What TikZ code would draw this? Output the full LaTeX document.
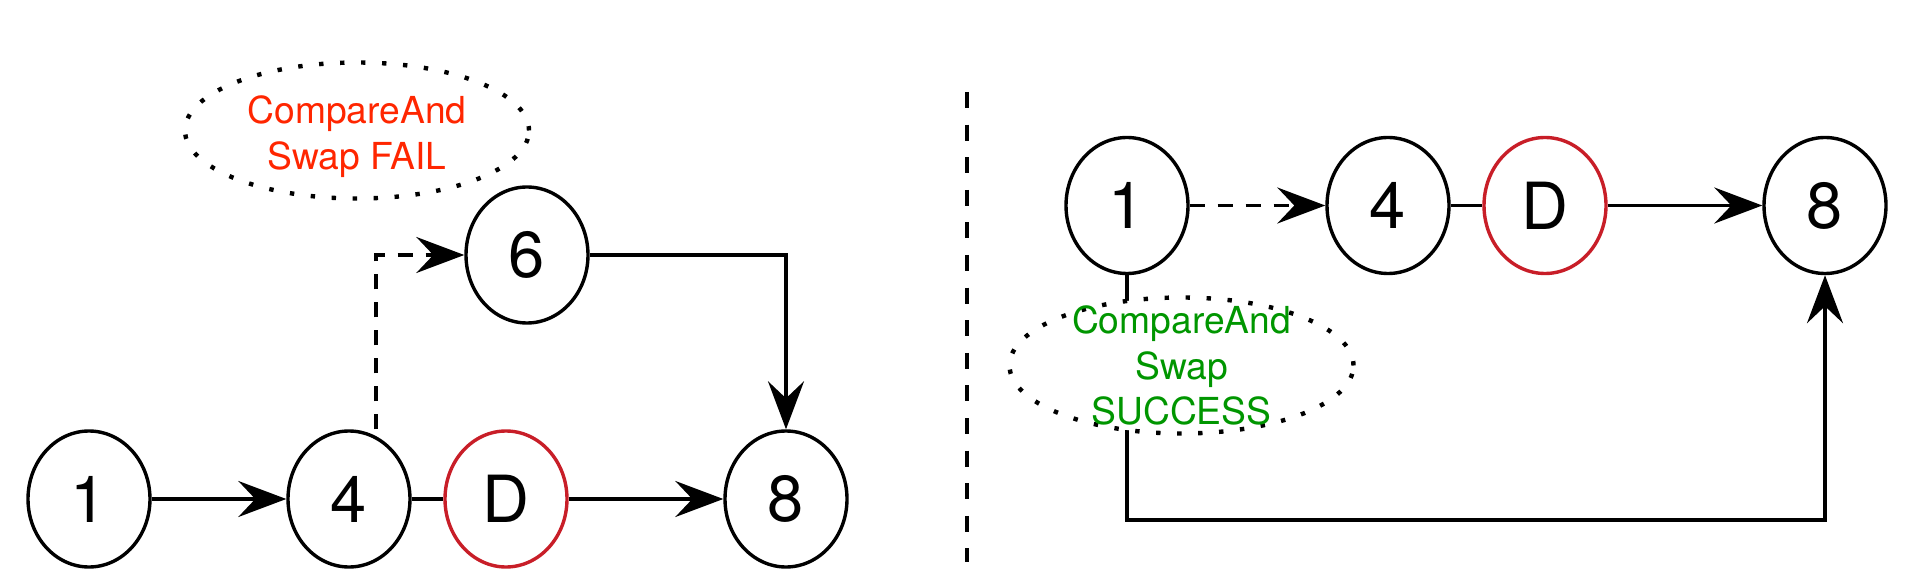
\documentclass[tikz,border=0pt]{standalone}
\usepackage{fontspec}
\setmainfont{TeX Gyre Heros}
\usetikzlibrary{shapes.geometric, arrows.meta}
\definecolor{delred}{RGB}{200,30,40}
\definecolor{failred}{RGB}{255,38,0}
\definecolor{okgreen}{RGB}{0,150,0}

\begin{document}
\begin{tikzpicture}[x=0.5pt,y=-0.5pt,
  elem/.style={ellipse, draw=black, line width=1.7pt, minimum width=61pt, minimum height=68pt, inner sep=0pt, font=\fontsize{32.5}{39}\selectfont},
  deleted/.style={elem, draw=delred},
  casbox/.style={ellipse, draw=black, line width=2.2pt, dash pattern=on 2.2pt off 8.3pt, fill=white, minimum width=172pt, minimum height=68pt, inner sep=0pt},
  castext/.style={align=center, inner sep=0pt, font=\fontsize{18.6}{22.75}\selectfont},
  link/.style={line width=1.7pt},
  ptr/.style={link, -{Stealth[length=24pt, width=18pt, inset=8.5pt]}},
  retry/.style={ptr, dash pattern=on 7.5pt off 6.5pt}]
\useasboundingbox (0,0) rectangle (1923,588);
\node[elem] (l1) at (89,499) {1};
\node[elem] (l4) at (349,499) {4};
\node[deleted] (lD) at (506,499) {D};
\node[elem] (l8) at (786,499) {8};
\node[elem] (l6) at (527,255) {6};
\node[casbox] (failbox) at (357,130.5) {};
\node[castext, text=failred, yshift=-3pt] (failtext) at (failbox) {CompareAnd\\Swap FAIL};
\draw[ptr] (l1) -- (l4);
\draw[link] (l4) -- (lD);
\draw[ptr] (lD) -- (l8);
\draw[retry] ([xshift=13.5pt]l4.north) |- (l6);
\draw[ptr] (l6) -| (l8);
\draw[line width=1.6pt, dash pattern=on 8pt off 8.3pt] (967,92) -- (967,562);
\node[elem] (r1) at (1127,205.5) {1};
\node[elem] (r4) at (1388,205.5) {4};
\node[deleted] (rD) at (1545,205.5) {D};
\node[elem] (r8) at (1825,205.5) {8};
\coordinate (rturn) at (1127,520);
\draw[retry] (r1) -- (r4);
\draw[link] (r4) -- (rD);
\draw[ptr] (rD) -- (r8);
\draw[ptr] (r1) -- (rturn) -| (r8);
\node[casbox] (okbox) at (1181.5,365.5) {};
\node[castext, text=okgreen] (oktext) at (okbox) {CompareAnd\\Swap\\SUCCESS};
\end{tikzpicture}
\end{document}
